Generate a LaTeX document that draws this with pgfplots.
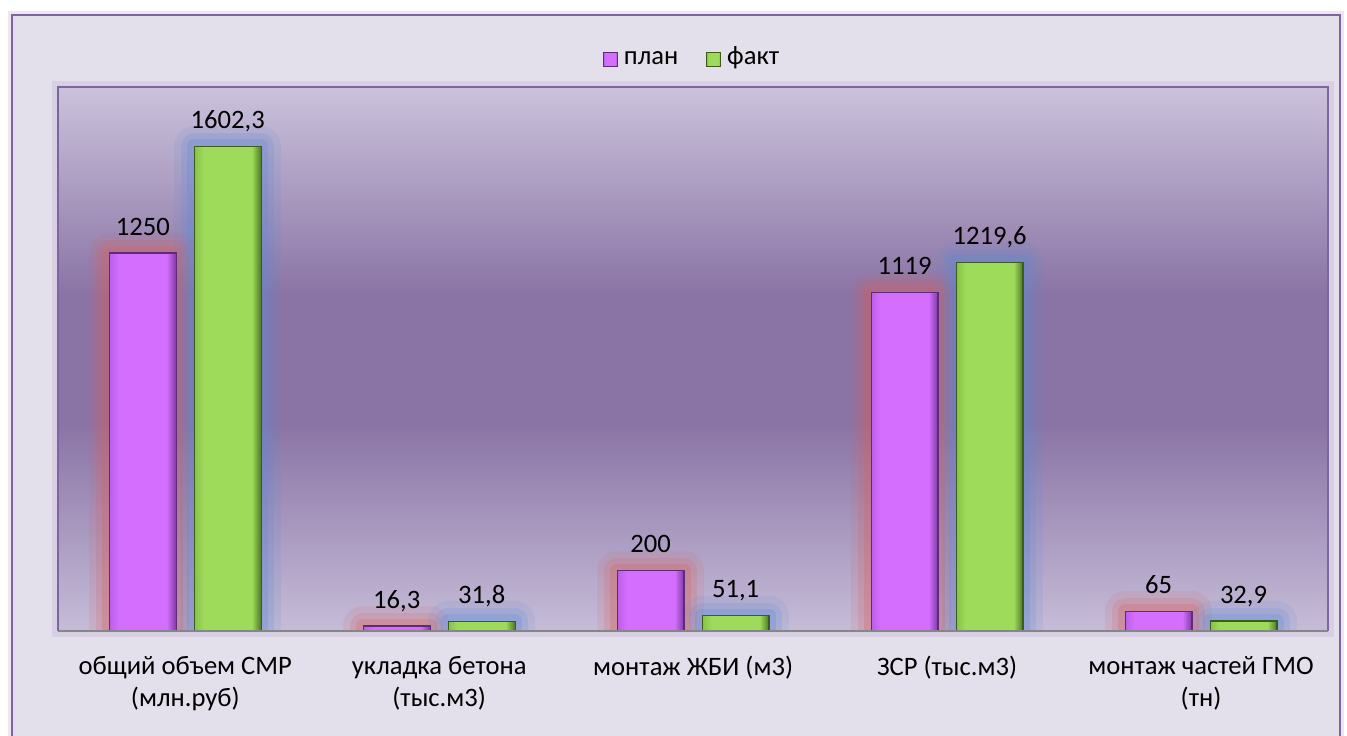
\documentclass[border=0pt]{standalone}
\usepackage{fontspec}
\setmainfont{Carlito}
\usepackage{pgfplots}
\pgfplotsset{compat=1.18}
\usepackage{pgfplotstable}

\definecolor{bgout}{HTML}{E3DFEB}
\definecolor{frame}{HTML}{8064A2}
\definecolor{bgtop}{HTML}{CBC2DC}
\definecolor{bgmid}{HTML}{8A74A5}
\definecolor{bgbot}{HTML}{C6BCD8}
\definecolor{plan}{HTML}{D36EFF}
\definecolor{planleft}{HTML}{BC5EEA}
\definecolor{planright}{HTML}{7E3AA2}
\definecolor{plandark}{HTML}{5E2A7A}
\definecolor{fakt}{HTML}{9EDB5A}
\definecolor{faktleft}{HTML}{86C248}
\definecolor{faktright}{HTML}{4E7624}
\definecolor{faktdark}{HTML}{3C5C1C}
\definecolor{glowred}{HTML}{D9605C}
\definecolor{glowblue}{HTML}{5B8BD6}
\definecolor{axgray}{HTML}{868686}

\pgfdeclarehorizontalshading{planshade}{100bp}{color(0bp)=(planleft); color(25bp)=(planleft); color(32bp)=(plan); color(68bp)=(plan); color(75bp)=(planright); color(100bp)=(planright)}
\pgfdeclarehorizontalshading{faktshade}{100bp}{color(0bp)=(faktleft); color(25bp)=(faktleft); color(32bp)=(fakt); color(68bp)=(fakt); color(75bp)=(faktright); color(100bp)=(faktright)}
\pgfdeclareverticalshading{plotbg}{100bp}{color(0bp)=(bgbot); color(25bp)=(bgbot); color(44bp)=(bgmid); color(56bp)=(bgmid); color(75bp)=(bgtop); color(100bp)=(bgtop)}

\pgfplotstableread{
x y lab
0 1250 1250
1 16.3 16,3
2 200 200
3 1119 1119
4 65 65
}\plantab

\pgfplotstableread{
x y lab
0 1602.3 1602,3
1 31.8 31,8
2 51.1 51,1
3 1219.6 1219,6
4 32.9 32,9
}\fakttab

\newcommand{\lblfont}{\fontsize{13.3}{16}\selectfont}

\pgfplotsset{
  planbar/.style={ybar, bar width=0.263, bar shift=-0.1674, fill=plan, shading=planshade, shade, draw=plandark, line width=0.6pt,
    nodes near coords, point meta=explicit symbolic,
    every node near coord/.append style={xshift=-21.25pt}},
  faktbar/.style={ybar, bar width=0.263, bar shift=0.1674, fill=fakt, shading=faktshade, shade, draw=faktdark, line width=0.6pt,
    nodes near coords, point meta=explicit symbolic,
    every node near coord/.append style={xshift=21.25pt}},
}

\begin{document}
\begin{tikzpicture}[x=1pt,y=1pt]
\useasboundingbox (0,0) rectangle (673.5,367.5);
\fill[white] (0,0) rectangle (673.5,367.5);
\draw[frame, opacity=0.15, line width=4pt] (6,-10) rectangle (670,360);
\filldraw[fill=bgout, draw=frame, line width=1.1pt] (6,-10) rectangle (670,360);
\draw[frame, opacity=0.12, line width=6pt] (29.15,52) rectangle (664,324.15);
\begin{axis}[
  name=ax,
  at={(29.15pt,52pt)}, anchor=south west,
  width=634.85pt, height=272.15pt, scale only axis,
  xmin=-0.5, xmax=4.5, ymin=0, ymax=1800,
  axis line style={draw=none},
  ytick=\empty,
  xtick={0,1,2,3,4},
  xticklabels={{общий объем СМР\\(млн.руб)},{укладка бетона\\(тыс.м3)},{монтаж ЖБИ (м3)},{ЗСР (тыс.м3)},{монтаж частей ГМО\\(тн)}},
  major tick length=0pt,
  xticklabel style={align=center, font=\lblfont, anchor=north, inner sep=0pt, yshift=-12.5pt, text=black},
  axis background/.style={shading=plotbg, shade},
  legend style={draw=none, fill=none, at={(0.5,1)}, anchor=center, yshift=13.5pt, font=\lblfont, legend columns=-1, column sep=1pt, /tikz/every even column/.append style={column sep=12pt}, nodes={text height=1.55ex, text depth=0.45ex}},
  legend image code/.code={\draw[#1, line width=0.4pt] (0pt,-3.5pt) rectangle (7pt,3.5pt);},
  every node near coord/.append style={font=\lblfont, anchor=base, inner sep=0pt, yshift=9pt, text=black},
]
% glows
\addplot[ybar, bar width=0.263, bar shift=-0.1674, fill=none, draw=glowred, draw opacity=0.12, line width=20pt, line join=round, forget plot] table[x=x,y=y]{\plantab};
\addplot[ybar, bar width=0.263, bar shift=-0.1674, fill=none, draw=glowred, draw opacity=0.18, line width=13pt, line join=round, forget plot] table[x=x,y=y]{\plantab};
\addplot[ybar, bar width=0.263, bar shift=-0.1674, fill=none, draw=glowred, draw opacity=0.25, line width=7pt, line join=round, forget plot] table[x=x,y=y]{\plantab};
\addplot[ybar, bar width=0.263, bar shift=0.1674, fill=none, draw=glowblue, draw opacity=0.12, line width=20pt, line join=round, forget plot] table[x=x,y=y]{\fakttab};
\addplot[ybar, bar width=0.263, bar shift=0.1674, fill=none, draw=glowblue, draw opacity=0.18, line width=13pt, line join=round, forget plot] table[x=x,y=y]{\fakttab};
\addplot[ybar, bar width=0.263, bar shift=0.1674, fill=none, draw=glowblue, draw opacity=0.25, line width=7pt, line join=round, forget plot] table[x=x,y=y]{\fakttab};
% bars (one plot per bar so each gets its own bevel shading)
\addplot[planbar] coordinates {(0,1250) [1250]};
\addplot[faktbar] coordinates {(0,1602.3) [1602,3]};
\addplot[planbar, forget plot] coordinates {(1,16.3) [16,3]};
\addplot[faktbar, forget plot] coordinates {(1,31.8) [31,8]};
\addplot[planbar, forget plot] coordinates {(2,200) [200]};
\addplot[faktbar, forget plot] coordinates {(2,51.1) [51,1]};
\addplot[planbar, forget plot] coordinates {(3,1119) [1119]};
\addplot[faktbar, forget plot] coordinates {(3,1219.6) [1219,6]};
\addplot[planbar, forget plot] coordinates {(4,65) [65]};
\addplot[faktbar, forget plot] coordinates {(4,32.9) [32,9]};
\legend{план,факт}
\end{axis}
\draw[frame, line width=1pt] (ax.south west) -- (ax.north west) -- (ax.north east) -- (ax.south east);
\draw[axgray, line width=1pt] (ax.south west) -- (ax.south east);
\end{tikzpicture}
\end{document}
